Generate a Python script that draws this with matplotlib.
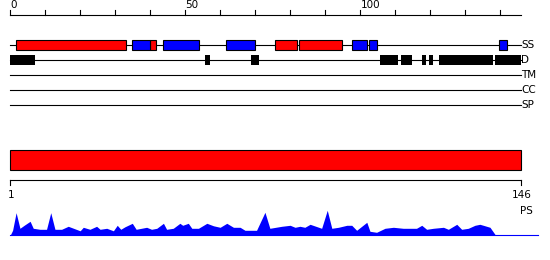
import matplotlib
matplotlib.use("Agg")
import matplotlib.pyplot as plt
from matplotlib.patches import Rectangle

seq_len = 146
tick_step = 10
tick_labels = [0, 50, 100]

# secondary structure segments (start, end) in residue units
helix_segs = [(1.7, 32.9), (39.8, 41.7), (75.6, 81.8), (82.5, 94.6)]
strand_segs = [(34.8, 39.8), (43.7, 53.8), (61.7, 69.8), (97.7, 101.8),
               (102.5, 104.6), (139.7, 141.9)]
# disorder segments
dis_segs = [(0, 7), (55.6, 57), (68.7, 71), (105.6, 110.6), (111.6, 114.6),
            (117.6, 118.8), (119.6, 120.7), (122.5, 137.8), (138.4, 145.8)]
track_names = ["SS", "D", "TM", "CC", "SP"]
domain_segs = [(0, 145.8)]

# PS profile (residue position, height)
ps_pos = [-0.1, 0.6, 1.6, 2.7, 3.9, 5.6, 6.5, 8.4, 10.3, 11.5, 12.7, 14.6, 16.5,
          19.9, 20.8, 22.7, 24.6, 25.6, 27.5, 29.4, 30.5, 31.5, 32.7, 34.8, 35.9,
          38.9, 40.3, 41.8, 43.7, 44.6, 46.5, 48.4, 49.2, 50.8, 51.8, 53.7, 56.1,
          58.0, 59.9, 61.8, 63.7, 65.6, 67.0, 70.3, 72.7, 74.1, 77.5, 79.9, 81.3,
          82.7, 84.1, 85.6, 88.9, 90.5, 91.8, 93.7, 96.1, 97.5, 98.9, 101.8, 102.7,
          104.6, 107.0, 109.4, 112.2, 116.0, 117.5, 118.9, 120.8, 123.7, 125.1,
          127.5, 128.9, 130.8, 132.7, 134.1, 135.1, 137.0, 138.6]
ps_val = [0, 5, 22.6, 7, 10, 14, 7, 6, 6, 22.6, 6, 6, 9,
          4.5, 8, 6, 9, 6, 7, 4.5, 10, 6, 8.5, 12, 6,
          8, 6, 7, 12, 6, 7, 12, 10, 12, 7, 7, 12,
          9.5, 8, 12, 8, 8, 5, 5, 23, 7, 9, 10, 8,
          9, 8, 11, 7, 25, 7, 8, 10, 10, 5, 13, 4,
          3, 7, 8, 7, 7, 10, 6, 7, 8, 6,
          11, 6, 7, 10, 11, 10, 8, 0]

RED = "#ff0000"
BLUE = "#0000ff"
lw = 0.8
fs = 7.5

fig = plt.figure(figsize=(5.5, 2.6), dpi=100)
ax = fig.add_axes([0, 0, 1, 1])
ax.set_xlim(-3, 154.143)
ax.set_ylim(260, 0)
ax.axis("off")

# top ruler
ax.plot([0, seq_len - 0.2], [15, 15], color="black", lw=lw)
for t in range(0, seq_len, tick_step):
    ax.plot([t, t], [10, 15], color="black", lw=lw)
for t in tick_labels:
    ax.text(t, 9.5, str(t), ha="left", va="bottom", fontsize=fs)

# track lines
track_y = [45, 60, 75, 90, 105]
for name, y in zip(track_names, track_y):
    ax.plot([-0.1, seq_len - 0.2], [y, y], color="black", lw=lw)
    ax.text(seq_len - 0.1, y, name, ha="left", va="center", fontsize=fs)

for s, e in helix_segs:
    ax.add_patch(Rectangle((s, 40), e - s, 10, facecolor=RED, edgecolor="black", lw=lw, zorder=3))
for s, e in strand_segs:
    ax.add_patch(Rectangle((s, 40), e - s, 10, facecolor=BLUE, edgecolor="black", lw=lw, zorder=3))
for s, e in dis_segs:
    ax.add_patch(Rectangle((s, 55), e - s, 10, facecolor="black", edgecolor="none", zorder=3))

# domain bar
for s, e in domain_segs:
    ax.add_patch(Rectangle((s, 150.3), e - s, 20, facecolor=RED, edgecolor="black", lw=lw, zorder=3))

# bottom ruler
ax.plot([-0.1, 145.8], [180.3, 180.3], color="black", lw=lw)
ax.plot([-0.1, -0.1], [180.3, 184.5], color="black", lw=lw)
ax.plot([145.8, 145.8], [180.3, 184.5], color="black", lw=lw)
ax.text(0.1, 195, "1", ha="center", va="center", fontsize=fs)
ax.text(146, 195, "146", ha="center", va="center", fontsize=fs)
ax.text(147.5, 211, "PS", ha="center", va="center", fontsize=fs)

# PS profile
base = 235.3
ax.fill_between(ps_pos, [base - v for v in ps_val], base, color=BLUE, lw=0)
ax.plot([-0.1, 150.6], [base, base], color=BLUE, lw=lw)

fig.savefig("out.png", dpi=100)
